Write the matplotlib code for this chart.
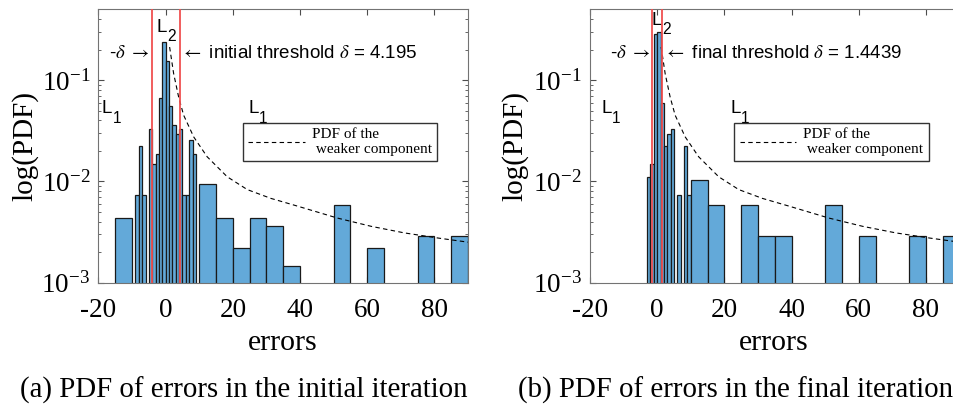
import matplotlib
matplotlib.use("Agg")
import matplotlib.pyplot as plt
from matplotlib.ticker import LogLocator, NullFormatter, FixedLocator

# ---- data -------------------------------------------------------------------
# histogram of errors, initial iteration (bin left edge, bin width, pdf value)
init_edges = [-15, -9, -8, -7, -5, -4, -3, -2, -1, 0, 1, 2, 3, 4, 5, 6, 7, 8,
              10, 15, 20, 25, 30, 35, 50, 60, 75, 85]
init_widths = [5] + [1] * 17 + [5] * 10
init_pdf = [0.0044, 0.0074, 0.0224, 0.0074, 0.033, 0.0148, 0.0185, 0.066,
            0.24, 0.155, 0.055, 0.036, 0.0294, 0.033, 0.0074, 0.0074, 0.0257,
            0.0185, 0.0095, 0.0044, 0.0022, 0.0044, 0.0036, 0.00145, 0.0058,
            0.0022, 0.0029, 0.0029]

# histogram of errors, final iteration
final_edges = [-3, -2, -1, 0, 1, 2, 3, 4, 6, 8, 9,
               10, 15, 25, 30, 35, 50, 60, 75, 85]
final_widths = [1] * 11 + [5] * 9
final_pdf = [0.011, 0.0148, 0.288, 0.30, 0.059, 0.0224, 0.0294, 0.033,
             0.0073, 0.0224, 0.0073, 0.0103, 0.0058, 0.0058, 0.0029, 0.0029,
             0.0058, 0.0029, 0.0029, 0.0029]

# pdf of the weaker component
weak_x = [1.17, 2.37, 3.86, 5.35, 8.34, 12.35, 18.33, 24.3, 31.3, 39.25,
          51.2, 61.2, 71.1, 81.1, 90.5]
weak_y = [0.212, 0.116, 0.068, 0.045, 0.0275, 0.0175, 0.0111, 0.0083,
          0.0068, 0.0057, 0.00434, 0.0036, 0.0031, 0.00276, 0.0025]

thresholds = [4.195, 1.4439]
threshold_names = ["initial", "final"]
captions = ["(a) PDF of errors in the initial iteration",
            "(b) PDF of errors in the final iteration"]
x_ticks = [-20, 0, 20, 40, 60, 80]

# ---- style -------------------------------------------------------------------
plt.rcParams["font.family"] = ["Liberation Serif", "DejaVu Serif"]
plt.rcParams["mathtext.fontset"] = "stix"
plt.rcParams["axes.unicode_minus"] = False

BAR_COLOR = "#63a9d9"
SANS = ["Liberation Sans", "DejaVu Sans"]
W, H = 954, 412

fig = plt.figure(figsize=(W / 100, H / 100), dpi=100)


def px_axes(left, top, width, height):
    return fig.add_axes([left / W, 1 - (top + height) / H, width / W, height / H])


def label_L(ax, x, y, sub):
    """'L' with a large, low subscript as MATLAB draws it."""
    ax.text(x, y, "L", family=SANS, fontsize=13.5, ha="left", va="baseline")
    ax.annotate(sub, (x, y), xytext=(7.6, -6.7), textcoords="offset points",
                family=SANS, fontsize=11.2, ha="left", va="baseline")


# (axes, edges, widths, pdf, L2 pos, L1 x positions)
panels = [
    (px_axes(98.5, 9.3, 369.5, 273.4), init_edges, init_widths, init_pdf,
     (-2.6, 0.30), (-19.0, 24.7)),
    (px_axes(590, 9.3, 369.5, 273.4), final_edges, final_widths, final_pdf,
     (-1.55, 0.35), (-16.5, 21.85)),
]

for i, (ax, edges, widths, pdf, l2, l1xs) in enumerate(panels):
    ax.bar(edges, pdf, width=widths, align="edge", color=BAR_COLOR,
           edgecolor="#1a1a1a", linewidth=0.9, zorder=2)
    ax.plot(weak_x, weak_y, color="black", linewidth=0.8,
            linestyle=(0, (4, 3)), zorder=3,
            label="PDF of the\n weaker component")
    d = thresholds[i]
    ax.axvline(-d, color="#f05050", linewidth=1.3, zorder=4)
    ax.axvline(d, color="#f05050", linewidth=1.3, zorder=4)

    ax.set_yscale("log")
    ax.set_xlim(-20, 90)
    ax.set_ylim(1e-3, 0.5)
    ax.xaxis.set_major_locator(FixedLocator(x_ticks))
    ax.yaxis.set_major_locator(LogLocator(base=10, numticks=10))
    ax.yaxis.set_minor_locator(LogLocator(base=10, subs=range(2, 10), numticks=10))
    ax.yaxis.set_minor_formatter(NullFormatter())
    ax.tick_params(which="both", direction="in", top=True, right=True,
                   labelsize=19.5, color="0.3")
    ax.tick_params(axis="x", pad=11)
    ax.tick_params(axis="y", pad=6)
    ax.tick_params(which="major", length=4)
    ax.tick_params(which="minor", length=2.5)
    for s in ax.spines.values():
        s.set_color("0.45")
        s.set_linewidth(0.8)

    # annotations
    label_L(ax, l2[0], l2[1], "2")
    for lx in l1xs:
        label_L(ax, lx, 0.047, "1")
    ax.text(-d - 0.4, 0.185, r"-$\delta$ $\rightarrow$", family=SANS,
            fontsize=13.5, ha="right", va="center")
    ax.text(d + 0.5, 0.185,
            r"$\leftarrow$ %s threshold $\delta$ = %s" % (threshold_names[i], d),
            family=SANS, fontsize=13.5, ha="left", va="center")

    ax.legend(loc="upper left", bbox_to_anchor=(0.391, 0.585), fontsize=11,
              frameon=True, fancybox=False, edgecolor="0.2", framealpha=1,
              handlelength=3.7, handletextpad=0.45, borderpad=0.35,
              borderaxespad=0)

# axis labels and captions
for cx, lx in [(283, 25), (773.3, 515)]:
    fig.text(lx / W, 1 - 146 / H, "log(PDF)", rotation=90, fontsize=21,
             ha="center", va="center")
    fig.text(cx / W, 1 - 343 / H, "errors", fontsize=21.5, ha="center",
             va="center")
fig.text(243.3 / W, 1 - 390 / H, captions[0], fontsize=20.8, ha="center",
         va="center")
fig.text(735.7 / W, 1 - 390 / H, captions[1], fontsize=20.8, ha="center",
         va="center")

fig.savefig("out.png", dpi=100)
